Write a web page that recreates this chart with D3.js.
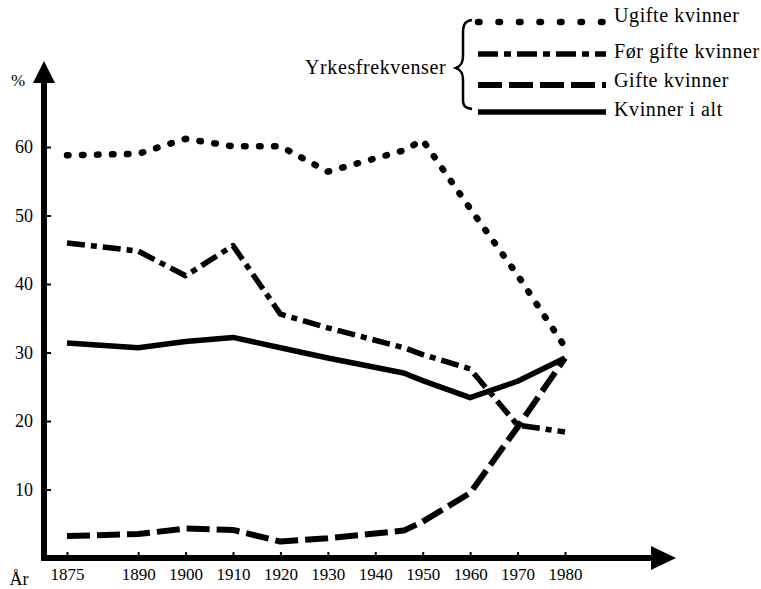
<!DOCTYPE html>
<html>
<head>
<meta charset="utf-8">
<script src="https://cdn.jsdelivr.net/npm/d3@7"></script>
<style>
  html, body { margin: 0; padding: 0; background: #fff; }
  svg { display: block; }
  svg text { font-family: "Liberation Serif", "DejaVu Serif", serif !important; fill: #000; }
</style>
</head>
<body>
<svg id="chart" width="761" height="589"></svg>
<script>
// ---- data ----
const years = [1875, 1890, 1900, 1910, 1920, 1930, 1946, 1950, 1960, 1970, 1980];
const tickYears = [1875, 1890, 1900, 1910, 1920, 1930, 1940, 1950, 1960, 1970, 1980];
const yTicks = [10, 20, 30, 40, 50, 60];
const ugifte = [58.8, 59.0, 61.2, 60.1, 60.1, 56.4, 59.5, 61.0, 51.0, 41.3, 30.8];
const forGifte = [46.0, 44.8, 41.2, 45.6, 35.6, 33.6, 30.7, 29.7, 27.6, 19.4, 18.4];
const gifte = [3.2, 3.5, 4.3, 4.1, 2.4, 2.9, 4.0, 5.3, 9.5, 19.1, 29.2];
const iAlt = [31.4, 30.7, 31.6, 32.2, 30.7, 29.2, 27.0, 25.9, 23.4, 25.8, 29.2];
const seriesNames = ["Ugifte kvinner", "Før gifte kvinner", "Gifte kvinner", "Kvinner i alt"];
const legendTitle = "Yrkesfrekvenser";

const FONT = '"Liberation Serif", "DejaVu Serif", serif';
const svg = d3.select("#chart");
const x = d3.scaleLinear().domain([1875, 1980]).range([67, 565]);
const y = d3.scaleLinear().domain([0, 60]).range([558, 147]);
const axisX = 44;            // y-axis position
const axisY = y(0);          // x-axis position

const styles = [
  { dash: "1.5 13.5", width: 6.5, cap: "round", legendDash: "1.5 19" },
  { dash: "18 6 6 6", width: 5.5, cap: "butt", legendDash: "20 6 7 6" },
  { dash: "23 7", width: 6, cap: "butt", legendDash: "24 7" },
  { dash: null, width: 5.5, cap: "butt", legendDash: null }
];
const allSeries = [ugifte, forGifte, gifte, iAlt];

// ---- axes ----
const gy = svg.append("g").attr("transform", `translate(${axisX},0)`)
  .call(d3.axisLeft(y).tickValues(yTicks).tickSizeInner(-7).tickSizeOuter(0).tickPadding(11));
gy.attr("font-family", FONT).attr("font-size", 18);
gy.select(".domain").remove();
gy.selectAll(".tick line").attr("stroke", "#000").attr("stroke-width", 2);

const gx = svg.append("g").attr("transform", `translate(0,${axisY})`)
  .call(d3.axisBottom(x).tickValues(tickYears).tickFormat(d3.format("d")).tickSizeInner(-6).tickSizeOuter(0).tickPadding(10));
gx.attr("font-family", FONT).attr("font-size", 17);
gx.select(".domain").remove();
gx.selectAll(".tick line").attr("stroke", "#000").attr("stroke-width", 2);

// axis lines + arrows
svg.append("line").attr("x1", axisX).attr("x2", axisX).attr("y1", axisY + 3).attr("y2", 80)
  .attr("stroke", "#000").attr("stroke-width", 6);
svg.append("path").attr("d", `M${axisX - 11},${83} L${axisX},${61} L${axisX + 11},${83} Z`).attr("fill", "#000");
svg.append("line").attr("x1", axisX - 3).attr("x2", 655).attr("y1", axisY).attr("y2", axisY)
  .attr("stroke", "#000").attr("stroke-width", 6);
svg.append("path").attr("d", `M651,${axisY - 12} L676,${axisY} L651,${axisY + 12} Z`).attr("fill", "#000");

svg.append("text").attr("x", 18).attr("y", 82).attr("text-anchor", "middle")
  .attr("dominant-baseline", "middle").attr("font-family", FONT).attr("font-size", 17).text("%");
svg.append("text").attr("x", 19).attr("y", 585).attr("text-anchor", "middle")
  .attr("font-family", FONT).attr("font-size", 18).text("År");

// ---- lines ----
const line = d3.line().x((d, i) => x(years[i])).y(d => y(d));
allSeries.forEach((s, k) => {
  const st = styles[k];
  const p = svg.append("path").datum(s).attr("d", line)
    .attr("fill", "none").attr("stroke", "#000")
    .attr("stroke-width", st.width).attr("stroke-linecap", st.cap)
    .attr("stroke-linejoin", "round");
  if (st.dash) p.attr("stroke-dasharray", st.dash);
});

// ---- legend ----
const legY = [22, 54, 85, 112];
const textY = [17, 53, 82, 111];
seriesNames.forEach((name, k) => {
  const st = styles[k];
  const l = svg.append("line").attr("x1", 478).attr("x2", 606)
    .attr("y1", legY[k]).attr("y2", legY[k])
    .attr("stroke", "#000").attr("stroke-width", st.width).attr("stroke-linecap", st.cap);
  if (st.legendDash) l.attr("stroke-dasharray", st.legendDash);
  svg.append("text").attr("x", 614).attr("y", textY[k])
    .attr("dominant-baseline", "middle").attr("font-family", FONT).attr("font-size", 20)
    .attr("letter-spacing", 0.6).text(name);
});
svg.append("text").attr("x", 305).attr("y", 69).attr("dominant-baseline", "middle")
  .attr("font-family", FONT).attr("font-size", 20).attr("letter-spacing", 0.6).text(legendTitle);
// brace
svg.append("path")
  .attr("d", "M472,20 C464,21 463,26 463,34 L463,56 C463,63 461,66 456,68 C461,70 463,73 463,80 L463,100 C463,106 465,108 472,109")
  .attr("fill", "none").attr("stroke", "#000").attr("stroke-width", 2.5);
</script>
</body>
</html>
